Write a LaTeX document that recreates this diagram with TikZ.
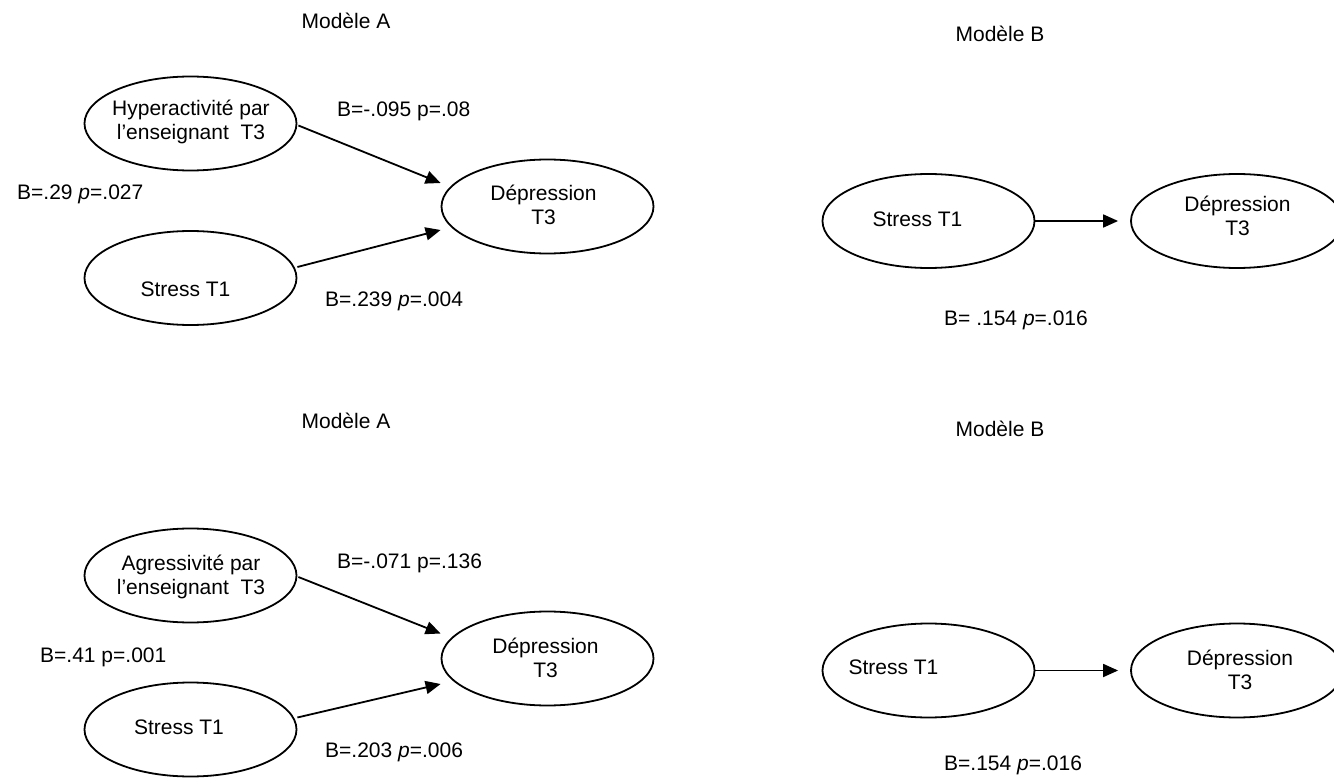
\documentclass[tikz,border=0pt]{standalone}
\usepackage{fontspec}
\setmainfont{Liberation Sans}
\usetikzlibrary{arrows.meta,calc,shapes.geometric}
\tikzset{
  oval/.style={draw, ellipse, line width=1.8pt, minimum width=212pt, minimum height=94pt, inner sep=0pt},
  txt/.style={font=\fontsize{21}{24}\selectfont, inner sep=0pt, align=center},
  lbl/.style={font=\fontsize{21}{24}\selectfont, inner sep=0pt, anchor=base west},
  ttl/.style={font=\fontsize{21}{24}\selectfont, inner sep=0pt, anchor=base},
  link/.style={line width=1.8pt, -{Triangle[length=15pt,width=13pt]}}
}
\begin{document}
\begin{tikzpicture}[x=1pt,y=-1pt]
\useasboundingbox (0,0) rectangle (1334,778);
\clip (0,0) rectangle (1334,778);
\fill[white] (0,0) rectangle (1334,778);

% ---------- top left : Modele A ----------
\node[ttl] (tA1) at (346,28.5) {Modèle A};
\node[oval] (h) at (190.5,123.5) {};
\node[txt] (ht) at (191,122) {Hyperactivité par\\l’enseignant\ \ T3};
\node[oval] (s1) at (190.5,278) {};
\node[txt] (s1t) at (185.5,289) {Stress T1};
\node[oval] (d1) at (547.5,206.5) {};
\node[txt] (d1t) at (543.5,204.5) {Dépression\\T3};
\draw[link] ($(h.east)+(1,2)$) -- ($(d1.west)+(0,-23.5)$);
\draw[link] ($(s1.east)+(0,-11)$) -- ($(d1.west)+(0,23.5)$);
\node[lbl] (l1) at (337,116.5) {B=-.095 p=.08};
\node[lbl] (l2) at (17,199.5) {B=.29 \textit{p}=.027};
\node[lbl] (l3) at (325,306.5) {B=.239 \textit{p}=.004};

% ---------- top right : Modele B ----------
\node[ttl] (tB1) at (1000,41.5) {Modèle B};
\node[oval] (s2) at (928.5,221) {};
\node[txt] (s2t) at (917.5,219) {Stress T1};
\node[oval] (d2) at (1237,221) {};
\node[txt] (d2t) at (1237.5,216) {Dépression\\T3};
\draw[link] (s2.east) -- ($(d2.west)+(-12,0)$);
\node[lbl] (l4) at (944,325.5) {B= .154 \textit{p}=.016};

% ---------- bottom left : Modele A ----------
\node[ttl] (tA2) at (346,428.5) {Modèle A};
\node[oval] (a) at (190.5,575.5) {};
\node[txt] (at) at (191,577) {Agressivité par\\l’enseignant\ \ T3};
\node[oval] (s3) at (190.5,729.5) {};
\node[txt] (s3t) at (179,727) {Stress T1};
\node[oval] (d3) at (547.5,658.5) {};
\node[txt] (d3t) at (545.5,657.5) {Dépression\\T3};
\draw[link] ($(a.east)+(1,1.5)$) -- ($(d3.west)+(0,-25)$);
\draw[link] ($(s3.east)+(0,-12)$) -- ($(d3.west)+(0,25.5)$);
\node[lbl] (l5) at (337,568.5) {B=-.071 p=.136};
\node[lbl] (l6) at (40,662.5) {B=.41 p=.001};
\node[lbl] (l7) at (325,757.5) {B=.203 \textit{p}=.006};

% ---------- bottom right : Modele B ----------
\node[ttl] (tB2) at (1000,436.5) {Modèle B};
\node[oval] (s4) at (928.5,670.5) {};
\node[txt] (s4t) at (893.5,667) {Stress T1};
\node[oval] (d4) at (1237,670.5) {};
\node[txt] (d4t) at (1240,669.5) {Dépression\\T3};
\draw[link] (s4.east) -- ($(d4.west)+(-12,0)$);
\node[lbl] (l8) at (944,770.5) {B=.154 \textit{p}=.016};
\end{tikzpicture}
\end{document}
